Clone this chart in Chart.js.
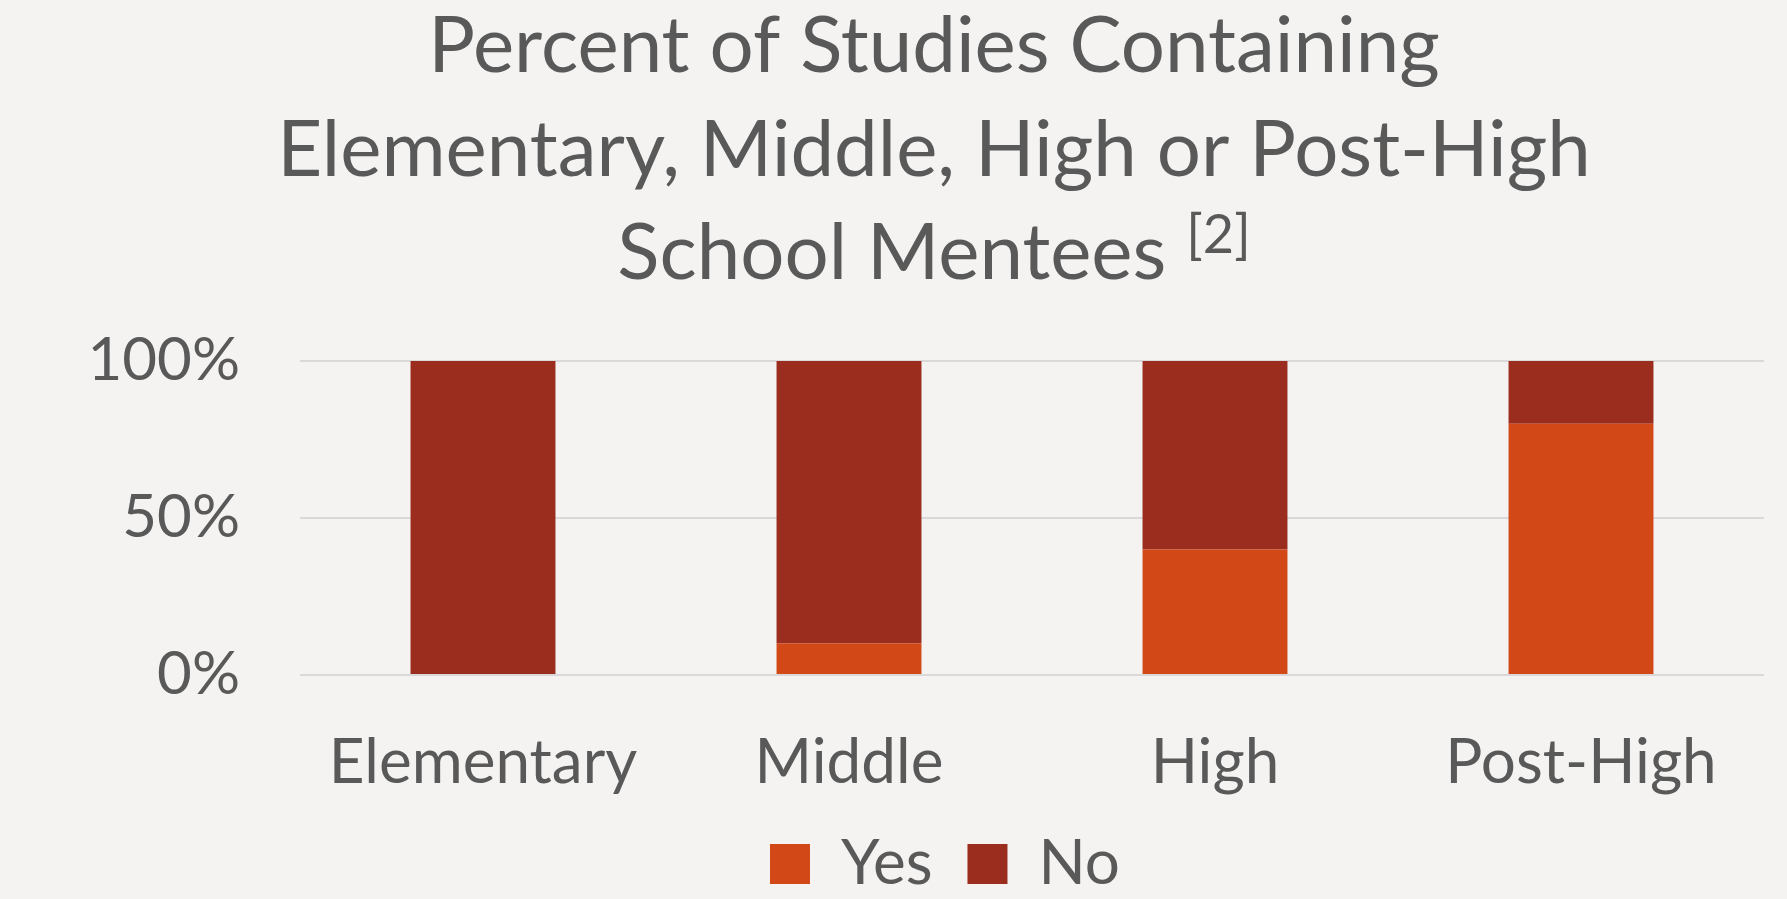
<!DOCTYPE html>
<html>
<head>
<meta charset="utf-8">
<script src="https://cdn.jsdelivr.net/npm/chart.js@4"></script>
<style>
  html, body { margin: 0; padding: 0; background: #F4F3F1; }
  #wrap { width: 1787px; height: 899px; }
</style>
</head>
<body>
<div id="wrap"><canvas id="schoolChart" width="1787" height="899"></canvas></div>
<script>
// --- dados do gráfico ---
const titleLines = ['Percent of Studies Containing', 'Elementary, Middle, High or Post-High', 'School Mentees'];
const titleNote = '[2]';
const categories = ['Elementary', 'Middle', 'High', 'Post-High'];
const yesValues = [0, 10, 40, 80];
const noValues = [100, 90, 60, 20];
const yTicks = [0, 50, 100];

const textColor = '#595959';
const fontFamily = 'Lato, "Open Sans", sans-serif';

// título desenhado à mão para poder ter o "[2]" sobrescrito
const titlePlugin = {
    id: 'titleWithNote',
    beforeLayout(chart) {
        // altura fixa da legenda, para sobrar espaço às descendentes dos rótulos do eixo x
        const lg = chart.legend;
        if (lg && !lg._fixedFit) {
            const fit = lg.fit;
            lg.fit = function () { fit.call(this); this.height = 89; };
            lg._fixedFit = true;
        }
    },
    afterLayout(chart) {
        // legenda um pouco à direita e acima, como no original
        chart.legend.left += 63;
        chart.legend.right += 63;
        chart.legend.top -= 12;
        chart.legend.bottom -= 12;
    },
    afterDraw(chart) {
        const ctx = chart.ctx;
        const cx = 934;
        const baselines = [72, 176, 279];
        ctx.save();
        ctx.fillStyle = textColor;
        ctx.textBaseline = 'alphabetic';
        const mainFont = '78px ' + fontFamily;
        const noteFont = '54px ' + fontFamily;
        ctx.font = mainFont;
        ctx.textAlign = 'center';
        ctx.fillText(titleLines[0], cx, baselines[0]);
        ctx.fillText(titleLines[1], cx, baselines[1]);
        // última linha + nota
        const last = titleLines[2] + ' ';
        const wMain = ctx.measureText(last).width;
        ctx.font = noteFont;
        const wNote = ctx.measureText(titleNote).width;
        const start = cx - (wMain + wNote) / 2;
        ctx.textAlign = 'left';
        ctx.font = mainFont;
        ctx.fillText(last, start, baselines[2]);
        ctx.font = noteFont;
        ctx.fillText(titleNote, start + wMain, baselines[2] - 26);
        ctx.restore();
    }
};

new Chart(document.getElementById('schoolChart'), {
    type: 'bar',
    data: {
        labels: categories,
        datasets: [
            { label: 'Yes', data: yesValues, backgroundColor: '#D34817', borderWidth: 0 },
            { label: 'No', data: noValues, backgroundColor: '#9B2D1F', borderWidth: 0 }
        ]
    },
    plugins: [titlePlugin],
    options: {
        responsive: false,
        animation: false,
        layout: { padding: { top: 361, right: 23, left: 0, bottom: 0 } },
        datasets: { bar: { categoryPercentage: 1, barPercentage: 0.396 } },
        plugins: {
            title: { display: false },
            tooltip: { enabled: false },
            legend: {
                position: 'bottom',
                labels: {
                    color: textColor,
                    font: { family: fontFamily, size: 62 },
                    boxWidth: 40,
                    boxHeight: 40,
                    padding: 35
                }
            }
        },
        scales: {
            x: {
                stacked: true,
                grid: { display: false },
                border: { display: false },
                afterFit(scale) { scale.height = 135; },
                ticks: { color: textColor, font: { family: fontFamily, size: 62 }, padding: 43 }
            },
            y: {
                stacked: true,
                min: 0,
                max: 100,
                afterFit(scale) { scale.width = 300; },
                afterBuildTicks(scale) { scale.ticks = yTicks.map(v => ({ value: v })); },
                grid: { color: '#D9D9D9', lineWidth: 2, drawTicks: false },
                border: { display: false },
                ticks: {
                    color: textColor,
                    font: { family: fontFamily, size: 60 },
                    padding: 60,
                    callback: v => v + '%'
                }
            }
        }
    }
});
</script>
</body>
</html>
